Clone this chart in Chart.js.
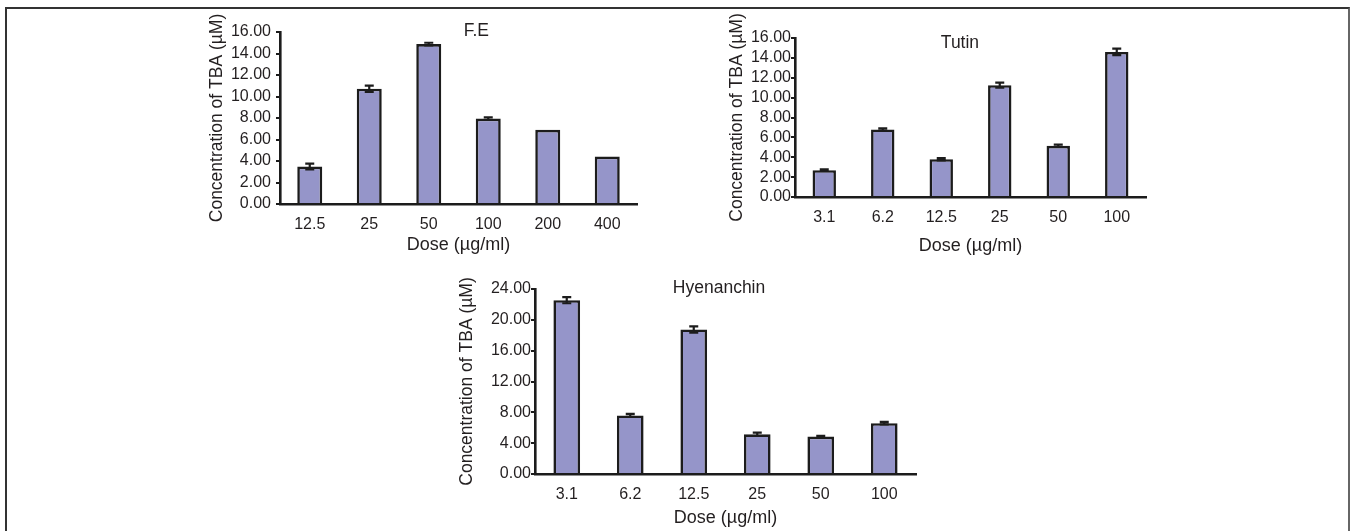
<!DOCTYPE html>
<html><head><meta charset="utf-8">
<script src="https://cdn.jsdelivr.net/npm/chart.js@4.4.1/dist/chart.umd.min.js"></script>
<style>
html,body{margin:0;padding:0;background:#fff;}
body{width:1352px;height:531px;position:relative;overflow:hidden;}
#frame{position:absolute;left:5px;top:7px;width:1341px;height:600px;border-top:2px solid #333;border-left:2px solid #333;border-right:2px solid #666;}
.panel{position:absolute;}
canvas{display:block;}
</style></head><body>
<div id="frame"></div>
<div class="panel" style="left:200px;top:8px;"><canvas id="cFE" width="450" height="257"></canvas></div>
<div class="panel" style="left:720px;top:8px;"><canvas id="cTutin" width="440" height="255"></canvas></div>
<div class="panel" style="left:450px;top:265px;"><canvas id="cHyen" width="480" height="266"></canvas></div>
<script>
// ---- data ----
const feDoses = ['12.5', '25', '50', '100', '200', '400'];
const feValues = [3.48, 10.72, 14.88, 7.95, 6.9, 4.41];
const feErrors = [0.27, 0.3, 0.12, 0.12, 0, 0];
const feYTicks = [0, 2, 4, 6, 8, 10, 12, 14, 16];

const tutinDoses = ['3.1', '6.2', '12.5', '25', '50', '100'];
const tutinValues = [2.7, 6.8, 3.8, 11.25, 5.15, 14.6];
const tutinErrors = [0.08, 0.12, 0.12, 0.25, 0.12, 0.33];
const tutinYTicks = [0, 2, 4, 6, 8, 10, 12, 14, 16];

const hyenDoses = ['3.1', '6.2', '12.5', '25', '50', '100'];
const hyenValues = [22.55, 7.6, 18.75, 5.15, 4.85, 6.6];
const hyenErrors = [0.4, 0.2, 0.4, 0.22, 0.1, 0.15];
const hyenYTicks = [0, 4, 8, 12, 16, 20, 24];

const yTitleText = 'Concentration of TBA (µM)';
const xTitleText = 'Dose (µg/ml)';

// ---- styling ----
const FONT = '"Liberation Sans", Arial, sans-serif';
const TXT = '#231f20';
const BAR = '#9595c9';
const INK = '#1c1c1c';

const errorBars = {
  id: 'errorBars',
  afterDatasetsDraw(chart, args, opts) {
    const ctx = chart.ctx;
    const meta = chart.getDatasetMeta(0);
    const ys = chart.scales.y;
    const vals = chart.data.datasets[0].data;
    const errs = opts.errors || [];
    ctx.save();
    ctx.strokeStyle = INK;
    ctx.lineWidth = 2.2;
    meta.data.forEach((bar, i) => {
      const e = errs[i];
      if (!e) return;
      const yt = ys.getPixelForValue(vals[i] + e);
      const yb = ys.getPixelForValue(vals[i] - e);
      const hw = opts.capWidth / 2;
      ctx.beginPath();
      ctx.moveTo(bar.x, yt); ctx.lineTo(bar.x, yb);
      ctx.moveTo(bar.x - hw, yt); ctx.lineTo(bar.x + hw, yt);
      ctx.moveTo(bar.x - hw, yb); ctx.lineTo(bar.x + hw, yb);
      ctx.stroke();
    });
    ctx.restore();
  }
};

const panelTitle = {
  id: 'panelTitle',
  afterDraw(chart, args, opts) {
    const ctx = chart.ctx;
    const a = chart.chartArea;
    ctx.save();
    ctx.font = '17.5px ' + FONT;
    ctx.fillStyle = TXT;
    ctx.textAlign = 'center';
    ctx.textBaseline = 'middle';
    ctx.fillText(opts.text, a.left + opts.fx * (a.right - a.left), a.top + opts.dy);
    ctx.restore();
  }
};

function makePanel(id, title, labels, values, errors, yTicks, g) {
  return new Chart(document.getElementById(id), {
    type: 'bar',
    data: {
      labels: labels,
      datasets: [{
        data: values,
        backgroundColor: BAR,
        borderColor: INK,
        borderWidth: 2.6,
        borderSkipped: 'start',
        barPercentage: 1,
        categoryPercentage: g.barPct
      }]
    },
    plugins: [errorBars, panelTitle],
    options: {
      responsive: false,
      animation: false,
      devicePixelRatio: 1,
      layout: { padding: { top: g.padTop, right: g.padRight, left: 0, bottom: 0 } },
      plugins: {
        legend: { display: false },
        tooltip: { enabled: false },
        errorBars: { errors: errors, capWidth: 9 },
        panelTitle: { text: title, fx: g.titleFx, dy: g.titleDy }
      },
      scales: {
        x: {
          grid: { display: false },
          border: { display: true, color: INK, width: 2.6 },
          ticks: { color: TXT, font: { family: FONT, size: 16 }, padding: g.xTickPad, maxRotation: 0, autoSkip: false },
          title: { display: true, text: xTitleText, color: TXT, font: { family: FONT, size: 18 }, padding: { top: 0, bottom: g.xTitlePad } },
          afterFit: s => { s.height = g.xHeight; }
        },
        y: {
          min: 0,
          max: yTicks[yTicks.length - 1],
          afterBuildTicks: s => { s.ticks = yTicks.map(v => ({ value: v })); },
          grid: { display: true, drawOnChartArea: false, drawTicks: true, tickLength: g.tickLen, color: INK, lineWidth: 2 },
          border: { display: true, color: INK, width: 2.6 },
          ticks: { color: TXT, font: { family: FONT, size: 16 }, padding: g.tickPad, autoSkip: false, callback: v => Number(v).toFixed(2) },
          title: { display: true, text: yTitleText, color: TXT, font: { family: FONT, size: 17.5 }, padding: { top: g.yTitlePad, bottom: 0 } },
          afterFit: s => { s.width = g.yWidth; }
        }
      }
    }
  });
}

makePanel('cFE', 'F.E', feDoses, feValues, feErrors, feYTicks, {
  yWidth: 80, xHeight: 61, padTop: 24, padRight: 13, tickLen: 4, tickPad: 5,
  xTickPad: 3, xTitlePad: 9, yTitlePad: 7, barPct: 0.42, titleFx: 0.55, titleDy: -1
});
makePanel('cTutin', 'Tutin', tutinDoses, tutinValues, tutinErrors, tutinYTicks, {
  yWidth: 75, xHeight: 66, padTop: 30, padRight: 14, tickLen: 4, tickPad: 0,
  xTickPad: 3, xTitlePad: 6, yTitlePad: 7, barPct: 0.40, titleFx: 0.47, titleDy: 5
});
makePanel('cHyen', 'Hyenanchin', hyenDoses, hyenValues, hyenErrors, hyenYTicks, {
  yWidth: 85, xHeight: 57, padTop: 24, padRight: 14, tickLen: 4, tickPad: 0,
  xTickPad: 3, xTitlePad: 2, yTitlePad: 7, barPct: 0.42, titleFx: 0.483, titleDy: -1
});
</script>
</body></html>
